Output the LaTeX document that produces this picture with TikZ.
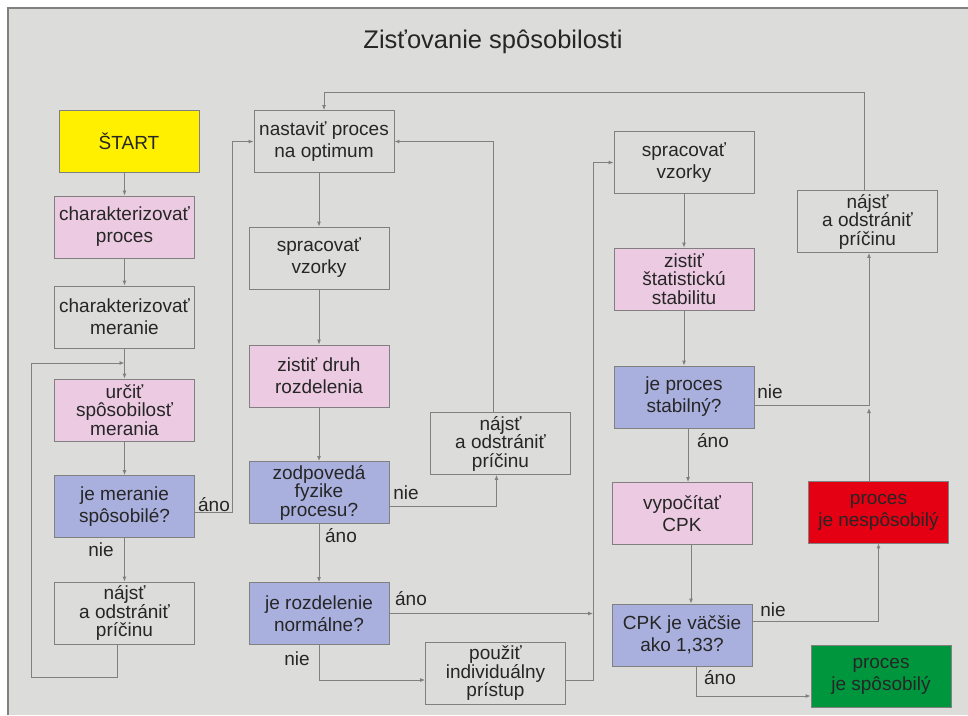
\documentclass[tikz,border=0pt]{standalone}
\usepackage{fontspec}
\setmainfont{Liberation Sans}
\usetikzlibrary{arrows.meta}

\definecolor{bgray}{RGB}{220,221,219}
\definecolor{lgray}{RGB}{128,128,128}
\definecolor{fyellow}{RGB}{255,240,0}
\definecolor{fpink}{RGB}{236,202,226}
\definecolor{fblue}{RGB}{170,176,222}
\definecolor{fred}{RGB}{228,0,18}
\definecolor{fgreen}{RGB}{0,150,62}

\begin{document}
\begin{tikzpicture}[x=1pt, y=-1pt,
  font=\fontsize{19}{22}\selectfont,
  box/.style={draw=lgray, line width=0.8pt, fill=bgray, align=center,
    inner sep=0pt, minimum width=140pt, minimum height=62pt, text=black!85},
  tight/.style={font=\fontsize{19}{18.5}\selectfont},
  arr/.style={-{Latex[length=5pt,width=4pt]}, draw=lgray, line width=0.9pt},
  note/.style={text=black!85}
]
  \useasboundingbox (0,0) rectangle (968,715);
  \fill[white] (0,0) rectangle (968,715);
  \fill[bgray] (8,8) rectangle (968,715);
  \draw[gray, line width=1.5pt] (8,715) -- (8,8) -- (968,8);

  \node[note, font=\fontsize{25.5}{30}\selectfont] (title) at (493,42) {Zisťovanie spôsobilosti};

  % first column
  \node[box, fill=fyellow] (start) at (129,141) {ŠTART};
  \node[box, fill=fpink] (charproc) at (124.5,227) {charakterizovať\\proces};
  \node[box] (charmer) at (124.5,317) {charakterizovať\\meranie};
  \node[box, fill=fpink, tight] (urcit) at (124.5,410) {určiť\\spôsobilosť\\merania};
  \node[box, fill=fblue] (jemer) at (124.5,506.5) {je meranie\\spôsobilé?};
  \node[box, tight] (najst1) at (124.5,613) {nájsť\\a odstrániť\\príčinu};

  % second column
  \node[box] (nastav) at (324,141.5) {nastaviť proces\\na optimum};
  \node[box] (sprac1) at (319,258) {spracovať\\vzorky};
  \node[box, fill=fpink] (druh) at (319,376) {zistiť druh\\rozdelenia};
  \node[box, fill=fblue, tight] (zodp) at (319,492.5) {zodpovedá\\fyzike\\procesu?};
  \node[box, fill=fblue] (normal) at (319,613.5) {je rozdelenie\\normálne?};
  \node[box, tight] (najst2) at (500.5,443.5) {nájsť\\a odstrániť\\príčinu};
  \node[box, tight] (pouzit) at (495.5,673.5) {použiť\\individuálny\\prístup};

  % third column
  \node[box] (sprac2) at (684,162.5) {spracovať\\vzorky};
  \node[box, fill=fpink, tight] (stab) at (684,279) {zistiť\\štatistickú\\stabilitu};
  \node[box, fill=fblue] (jestab) at (684,397) {je proces\\stabilný?};
  \node[box, tight] (najst3) at (867.5,221.5) {nájsť\\a odstrániť\\príčinu};
  \node[box, fill=fpink] (cpk) at (682,513.5) {vypočítať\\CPK};
  \node[box, fill=fblue] (vacsie) at (682,635) {CPK je väčšie\\ako 1,33?};
  \node[box, fill=fred] (nespos) at (878.5,512) {proces\\je nespôsobilý};
  \node[box, fill=fgreen] (spos) at (881,676.5) {proces\\je spôsobilý};

  \coordinate (j1) at (124.5,363);
  \coordinate (busx) at (593,680);
  \coordinate (merge) at (869,405);

  \draw[arr] (start.south -| charproc) -- (charproc);
  \draw[arr] (charproc) -- (charmer);
  \draw[arr] (charmer) -- (urcit);
  \draw[arr] (urcit) -- (jemer);
  \draw[arr] (jemer) -- (najst1);
  \draw[arr] ([xshift=-7pt]najst1.south) -- ++(0,33) -| (31,363) -- (j1);
  \draw[arr] ([yshift=-6pt]jemer.east) -- ++(38,0) |- (nastav.west);

  \draw[arr] (nastav.south -| sprac1) -- (sprac1);
  \draw[arr] (sprac1) -- (druh);
  \draw[arr] (druh) -- (zodp);
  \draw[arr] (zodp) -- (normal);
  \draw[arr] ([yshift=-14pt]zodp.east) -| ([xshift=-4pt]najst2.south);
  \draw[arr] ([xshift=-7pt]najst2.north) |- (nastav.east);
  \draw[arr] (normal.east) -- (normal.east -| busx);
  \draw[arr] (normal.south) |- ([yshift=-6.5pt]pouzit.west);
  \draw[arr] ([yshift=-6.5pt]pouzit.east) -- (busx) |- (sprac2.west);

  \draw[arr] (sprac2) -- (stab);
  \draw[arr] (stab) -- (jestab);
  \draw[arr] ([xshift=4pt]jestab.south) -- ([xshift=6pt]cpk.north);
  \draw[arr] ([xshift=9pt]cpk.south) -- ([xshift=9pt]vacsie.north);
  \draw[arr] ([yshift=-8pt]jestab.east) -- (merge) -- (merge |- najst3.south);
  \draw[arr, shorten >=3pt] (nespos.north -| merge) -- (merge);
  \draw[arr] ([yshift=14pt]vacsie.east) -| (nespos.south);
  \draw[arr] ([xshift=14pt]vacsie.south) |- ([yshift=-19.5pt]spos.west);
  \draw[arr] ([xshift=-3.5pt]najst3.north) |- ([yshift=18pt]nastav.north) -- (nastav.north);

  % labels
  \node[note] (l1) at (214,505) {áno};
  \node[note] (l2) at (101,550) {nie};
  \node[note] (l3) at (406,493) {nie};
  \node[note] (l4) at (341,536) {áno};
  \node[note] (l5) at (411,599) {áno};
  \node[note] (l6) at (297,659) {nie};
  \node[note] (l7) at (770,392) {nie};
  \node[note] (l8) at (713,441) {áno};
  \node[note] (l9) at (773,610) {nie};
  \node[note] (l10) at (720,678) {áno};
\end{tikzpicture}
\end{document}
